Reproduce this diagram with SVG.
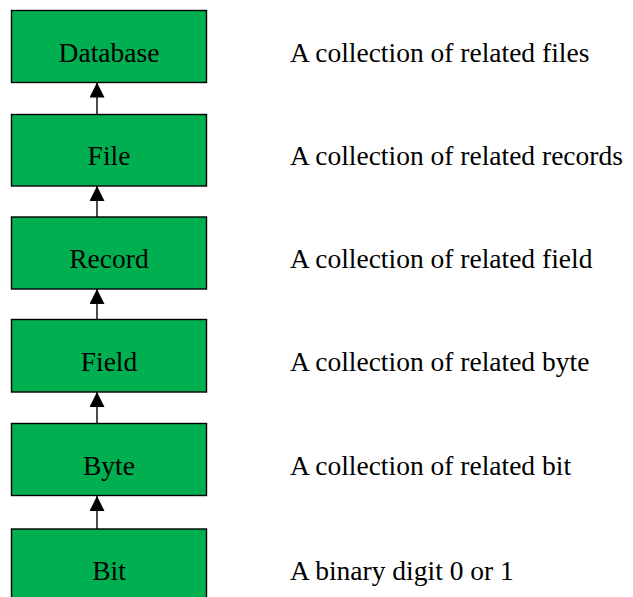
<svg xmlns="http://www.w3.org/2000/svg" width="633" height="597" viewBox="0 0 633 597">
<defs>
<style>
.box{fill:#00B050;stroke:#000;stroke-width:1.4}
.lbl{font-family:"Liberation Serif","Times New Roman",serif;font-size:27.5px;fill:#000}
.c{text-anchor:middle}
.conn line{stroke:#000;stroke-width:1.4;marker-end:url(#ah)}
</style>
<marker id="ah" viewBox="0 0 15 15" refX="15" refY="7.5" markerWidth="15" markerHeight="15" markerUnits="userSpaceOnUse" orient="auto">
<path d="M0,0 L15,7.5 L0,15 Z" fill="#000"/>
</marker>
</defs>
<rect width="633" height="597" fill="#fff"/>
<g id="database"><rect class="box" x="11.5" y="10.5" width="195" height="72"/><text class="lbl c" x="109" y="61.5">Database</text></g>
<g id="file"><rect class="box" x="11.5" y="114.5" width="195" height="71.5"/><text class="lbl c" x="109" y="165">File</text></g>
<g id="record"><rect class="box" x="11.5" y="217" width="195" height="72"/><text class="lbl c" x="109" y="268">Record</text></g>
<g id="field"><rect class="box" x="11.5" y="319.5" width="195" height="72.5"/><text class="lbl c" x="109" y="370.5">Field</text></g>
<g id="byte"><rect class="box" x="11.5" y="423.5" width="195" height="72"/><text class="lbl c" x="109" y="474.5">Byte</text></g>
<g id="bit"><rect class="box" x="11.5" y="529" width="195" height="72"/><text class="lbl c" x="109" y="580">Bit</text></g>
<g id="descriptions">
<text class="lbl" x="290" y="61.5">A collection of related files</text>
<text class="lbl" x="290" y="165">A collection of related records</text>
<text class="lbl" x="290" y="268">A collection of related field</text>
<text class="lbl" x="290" y="370.5">A collection of related byte</text>
<text class="lbl" x="290" y="474.5">A collection of related bit</text>
<text class="lbl" x="290" y="580">A binary digit 0 or 1</text>
</g>
<g id="connectors" class="conn">
<line x1="97" y1="114.5" x2="97" y2="82.5"/>
<line x1="97" y1="217" x2="97" y2="186"/>
<line x1="97" y1="319.5" x2="97" y2="289"/>
<line x1="97" y1="423.5" x2="97" y2="392"/>
<line x1="97" y1="529" x2="97" y2="496"/>
</g>
</svg>
